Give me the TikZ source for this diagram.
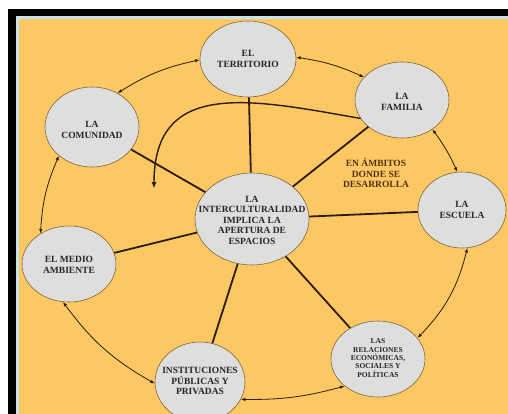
\documentclass[tikz,border=0pt]{standalone}
\usepackage{fontspec}
\setmainfont{Liberation Serif}
\usetikzlibrary{shapes.geometric,arrows.meta}
\definecolor{fondo}{RGB}{252,200,100}
\definecolor{franja}{RGB}{200,225,235}
\definecolor{gris}{RGB}{222,222,220}
\definecolor{cafe}{RGB}{130,100,55}
\definecolor{tinta}{RGB}{45,28,10}
\definecolor{letra}{RGB}{85,48,15}
\def\bubble{\node[ellipse,draw=cafe,fill=gris,line width=0.6pt,inner sep=0pt]}
\def\rotulo{\node[align=center,text=black!85]}

\begin{document}
\begin{tikzpicture}[x=1pt,y=1pt,font=\fontsize{9.5}{10.5}\selectfont\bfseries,
  rayo/.style={line width=1.8pt,draw=tinta},
  vinculo/.style={{Latex[length=4.5pt,width=3.5pt]}-{Latex[length=4.5pt,width=3.5pt]},line width=0.8pt,draw=tinta}]
\useasboundingbox (0,0) rectangle (508,-414);
\fill[white] (0,0) rectangle (508,-414);
\fill[black] (8,-9) rectangle (508,-414);
\fill[franja] (16,-16) rectangle (508,-414);
\fill[fondo] (19,-19) rectangle (508,-414);
\bubble[minimum width=96,minimum height=76] (terr) at (248,-59) {};
\bubble[minimum width=94,minimum height=76] (fam) at (402,-100) {};
\bubble[minimum width=94,minimum height=80] (com) at (92,-127) {};
\bubble[minimum width=114,minimum height=92] (cen) at (252,-219) {};
\bubble[minimum width=88,minimum height=76] (esc) at (462,-210) {};
\bubble[minimum width=94,minimum height=76] (med) at (69,-264) {};
\bubble[minimum width=90,minimum height=80] (inst) at (200,-382) {};
\bubble[minimum width=94,minimum height=76] (rel) at (378,-359) {};
\rotulo (terrT) at (248,-59) {EL\\TERRITORIO};
\rotulo (famT) at (402,-102) {LA\\FAMILIA};
\rotulo (comT) at (92,-130) {LA\\COMUNIDAD};
\rotulo (cenT) at (252,-220) {LA\\INTERCULTURALIDAD\\IMPLICA LA\\APERTURA DE\\ESPACIOS};
\rotulo (escT) at (462,-210) {LA\\ESCUELA};
\rotulo (medT) at (69,-265) {EL MEDIO\\AMBIENTE};
\rotulo (instT) at (200,-381) {INSTITUCIONES\\PÚBLICAS Y\\PRIVADAS};
\rotulo[font=\fontsize{7.5}{8.3}\selectfont\bfseries] (relT) at (378,-358) {LAS\\RELACIONES\\ECONÓMICAS,\\SOCIALES Y\\POLÍTICAS};
\node[align=center,text=letra] (ambitos) at (376,-173) {EN ÁMBITOS\\DONDE SE\\DESARROLLA};
\draw[rayo] (cen) -- (terr);
\draw[rayo] (cen) -- (com);
\draw[rayo] (cen) -- (fam);
\draw[rayo] (cen) -- (esc);
\draw[rayo] (cen) -- (med);
\draw[rayo] (cen) -- (inst);
\draw[rayo] (cen) -- (rel);
\coordinate (punta) at (154,-189);
\draw[line width=1.4pt,draw=tinta,-{Latex[length=7pt,width=5pt]},out=170,in=90,looseness=1.3] (fam.204) to (punta);
\draw[vinculo] (com.53) to[bend left=10] (terr.181);
\draw[vinculo] (terr.2) to[bend left=8] (fam.149);
\draw[vinculo] (fam.-44) to[bend left=6] (esc.97);
\draw[vinculo] (esc.278) to[bend left=15] (rel.28);
\draw[vinculo] (rel.219) to[bend left=8] (inst.337);
\draw[vinculo] (inst.182) to[bend left=12] (med.261);
\draw[vinculo] (med.133) to[bend left=10] (com.221);
\end{tikzpicture}
\end{document}
